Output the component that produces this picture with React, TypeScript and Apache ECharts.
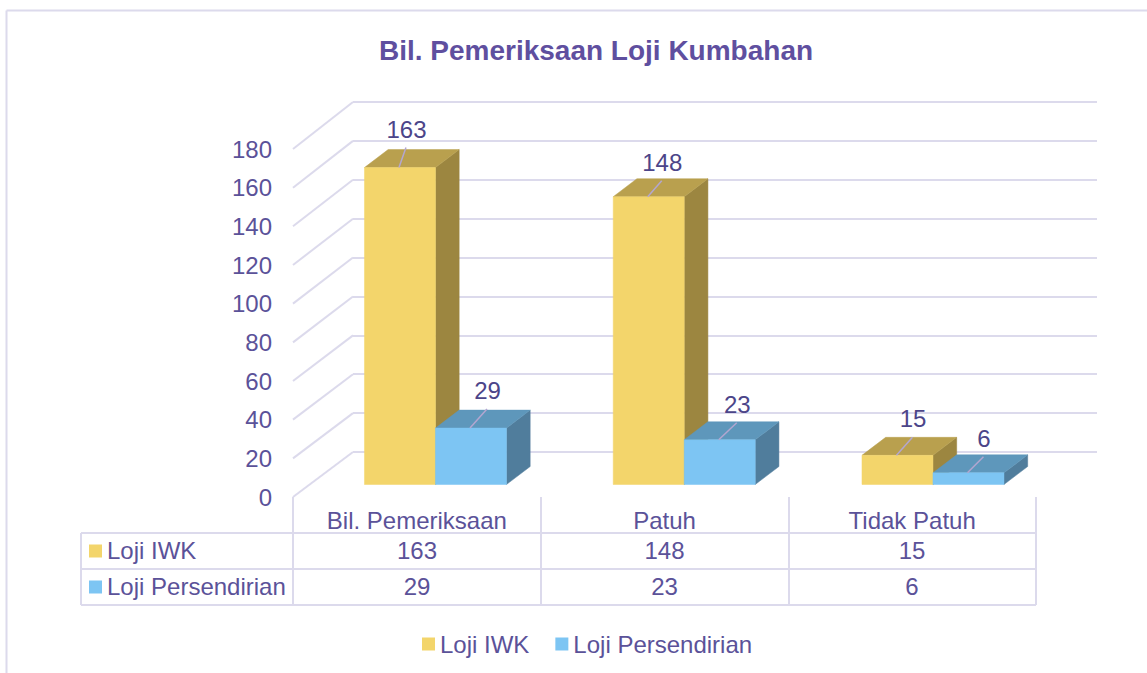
import React, { useEffect, useRef } from "react";
import * as echarts from "echarts";

const titleText = "Bil. Pemeriksaan Loji Kumbahan";
const categories = ["Bil. Pemeriksaan", "Patuh", "Tidak Patuh"];
const seriesNames = ["Loji IWK", "Loji Persendirian"];
const lojiIWK = [163, 148, 15];
const lojiPersendirian = [29, 23, 6];
const yTicks = [0, 20, 40, 60, 80, 100, 120, 140, 160, 180];
const leaderOffsets = [
  [[7, -20], [14, -16], [16, -18]],
  [[17, -19], [18, -17], [16, -16]],
];

const TEXT = "#5b5299";
const LABEL = "#4c4589";
const RULE = "#dcdaec";
const FONT = "'Liberation Sans', Arial, sans-serif";
const FS = 24;
const palette = [
  { front: "#f3d56b", top: "#b9a04e", side: "#9c8640" },
  { front: "#7dc5f3", top: "#5e97bb", side: "#507d9c" },
];

const barRender = (sIdx: number) => (params: any, api: any) => {
  const c = palette[sIdx];
  const v = api.value(1) as number;
  const p0 = api.coord([api.value(0), 0]);
  const p1 = api.coord([api.value(0), v]);
  const w = 71;
  const xl = sIdx === 0 ? p0[0] - w : p0[0];
  const xr = xl + w;
  const dx = 23.7;
  const dy = 18;
  const [lx, ly] = leaderOffsets[sIdx][params.dataIndex];
  const xm = (xl + xr) / 2 - 1;
  const st = (fill: string) => ({ fill, stroke: fill, lineWidth: 0.5 });
  return {
    type: "group",
    children: [
      {
        type: "polygon",
        shape: { points: [[xr, p1[1]], [xr + dx, p1[1] - dy], [xr + dx, p0[1] - dy], [xr, p0[1]]] },
        style: st(c.side),
      },
      {
        type: "polygon",
        shape: { points: [[xl, p1[1]], [xl + dx, p1[1] - dy], [xr + dx, p1[1] - dy], [xr, p1[1]]] },
        style: st(c.top),
      },
      { type: "rect", shape: { x: xl, y: p1[1], width: w, height: p0[1] - p1[1] }, style: st(c.front) },
      {
        type: "line",
        shape: { x1: xm, y1: p1[1], x2: xm + lx, y2: p1[1] + ly },
        style: { stroke: "#b3a6d0", lineWidth: 1.5 },
        z2: 5,
      },
      {
        type: "text",
        x: xm + lx + 0.5,
        y: p1[1] + ly - 18.5,
        style: { text: String(v), fill: LABEL, font: `${FS}px ${FONT}`, align: "center", verticalAlign: "middle" },
        z2: 6,
      },
    ],
  };
};

const diagRender = (params: any, api: any) => {
  const v = api.value(1) as number;
  const b = api.coord([0, v]);
  return {
    type: "line",
    shape: { x1: b[0], y1: b[1], x2: b[0] - 60, y2: b[1] + 45 + (v / 180) * 2 },
    style: { stroke: RULE, lineWidth: 2 },
  };
};

const tableGraphics = () => {
  const els: any[] = [];
  const line = (x1: number, y1: number, x2: number, y2: number) =>
    els.push({ type: "line", shape: { x1, y1, x2, y2 }, style: { stroke: RULE, lineWidth: 2 } });
  line(6.5, 10.5, 1147, 10.5);
  line(6.5, 10.5, 6.5, 673);
  [533, 569, 605].forEach((y) => line(81, y, 1036, y));
  line(81, 533, 81, 605);
  [293, 541, 789, 1036].forEach((x) => line(x, 497, x, 605));
  const rowsY = [550, 586];
  const colsX = [417, 664.5, 912];
  [lojiIWK, lojiPersendirian].forEach((vals, r) => {
    els.push({
      type: "rect",
      shape: { x: 89, y: rowsY[r] - 5.5, width: 13, height: 13 },
      style: { fill: palette[r].front },
    });
    els.push({
      type: "text",
      x: 107,
      y: rowsY[r],
      style: { text: seriesNames[r], fill: TEXT, font: `${FS}px ${FONT}`, align: "left", verticalAlign: "middle" },
    });
    vals.forEach((v, i) =>
      els.push({
        type: "text",
        x: colsX[i],
        y: rowsY[r],
        style: { text: String(v), fill: TEXT, font: `${FS}px ${FONT}`, align: "center", verticalAlign: "middle" },
      })
    );
  });
  return els;
};

export default function App() {
  const ref = useRef<HTMLDivElement>(null);
  useEffect(() => {
    document.body.style.margin = "0";
    document.body.style.overflow = "hidden";
    const chart = echarts.init(ref.current!, null, { renderer: "svg" });
    chart.setOption({
      animation: false,
      backgroundColor: "#ffffff",
      title: {
        text: titleText,
        left: 591,
        top: 31,
        textAlign: "center",
        textStyle: { color: "#5f4f9f", fontFamily: FONT, fontWeight: "bold", fontSize: 28 },
      },
      grid: [
        { left: 293, top: 149, width: 743, height: 348 },
        { left: 353, top: 102, width: 744, height: 350 },
        { left: 311.1, top: 134.5, width: 746.25, height: 350 },
      ],
      xAxis: [
        {
          gridIndex: 0,
          type: "category",
          data: categories,
          axisLine: { show: false },
          axisTick: { show: false },
          axisLabel: { color: TEXT, fontFamily: FONT, fontSize: FS, margin: 11, interval: 0 },
        },
        { gridIndex: 1, type: "value", min: 0, max: 1, show: false },
        { gridIndex: 2, type: "category", data: categories, show: false },
      ],
      yAxis: [
        {
          gridIndex: 0,
          type: "value",
          min: 0,
          max: 180,
          interval: 20,
          axisLine: { show: false },
          axisTick: { show: false },
          splitLine: { show: false },
          axisLabel: { color: TEXT, fontFamily: FONT, fontSize: FS, margin: 21 },
        },
        {
          gridIndex: 1,
          type: "value",
          min: 0,
          max: 180,
          interval: 20,
          axisLine: { show: false },
          axisTick: { show: false },
          axisLabel: { show: false },
          splitLine: { show: true, lineStyle: { color: RULE, width: 2 } },
        },
        { gridIndex: 2, type: "value", min: 0, max: 180, interval: 20, show: false },
      ],
      legend: {
        data: seriesNames,
        left: 417,
        top: 627,
        icon: "rect",
        itemWidth: 13,
        itemHeight: 13,
        itemGap: 26,
        textStyle: { color: TEXT, fontFamily: FONT, fontSize: FS },
      },
      graphic: tableGraphics(),
      series: [
        {
          type: "custom",
          name: "wall",
          xAxisIndex: 1,
          yAxisIndex: 1,
          z: 1,
          renderItem: diagRender,
          data: yTicks.map((t) => [0, t]),
          silent: true,
        },
        {
          type: "custom",
          name: seriesNames[0],
          xAxisIndex: 2,
          yAxisIndex: 2,
          z: 3,
          itemStyle: { color: palette[0].front },
          renderItem: barRender(0),
          encode: { x: 0, y: 1 },
          data: lojiIWK.map((v, i) => [i, v]),
        },
        {
          type: "custom",
          name: seriesNames[1],
          xAxisIndex: 2,
          yAxisIndex: 2,
          z: 4,
          itemStyle: { color: palette[1].front },
          renderItem: barRender(1),
          encode: { x: 0, y: 1 },
          data: lojiPersendirian.map((v, i) => [i, v]),
        },
      ],
    });
    return () => chart.dispose();
  }, []);
  return <div ref={ref} style={{ width: 1147, height: 673 }} />;
}
